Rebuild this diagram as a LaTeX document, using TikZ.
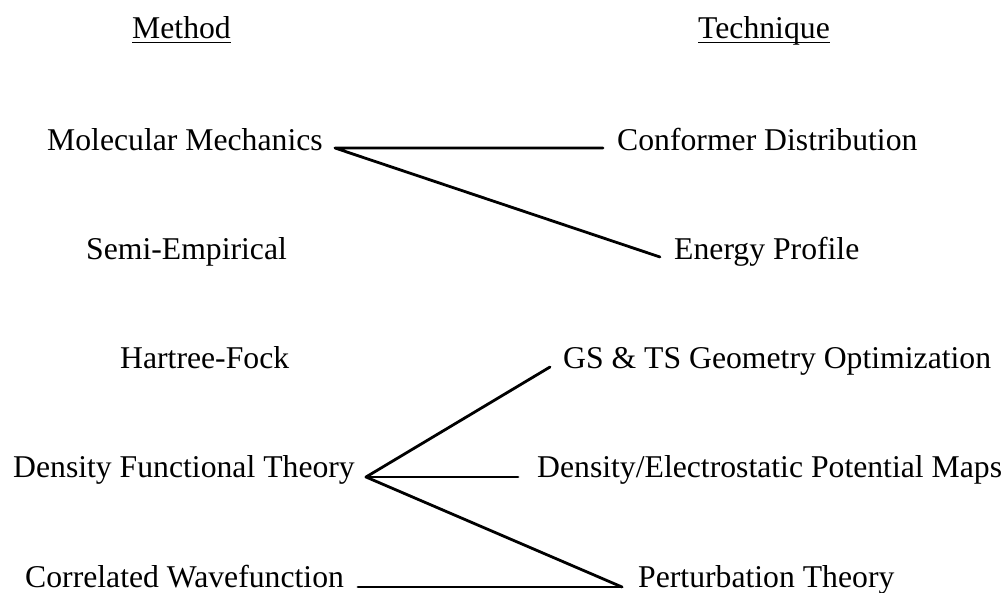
\documentclass[tikz,border=0pt]{standalone}
\usepackage{fontspec}
\setmainfont{Liberation Serif}
\begin{document}
\begin{tikzpicture}[x=1pt,y=-1pt,
  lbl/.style={anchor=base west,inner sep=0pt,font=\fontsize{31.7}{38}\selectfont},
  conn/.style={line width=2.8pt,line cap=round,line join=round}]
\useasboundingbox (0,0) rectangle (1008,592);
% headers
\node[lbl] (hm) at (132,38) {Method};
\node[lbl] (ht) at (698,38) {Technique};
\draw[line width=1.8pt] ([yshift=-4.5]hm.base west) -- ([yshift=-4.5]hm.base east);
\draw[line width=1.8pt] ([yshift=-4.5]ht.base west) -- ([yshift=-4.5]ht.base east);
% methods
\node[lbl] (mm) at (47,150) {Molecular Mechanics};
\node[lbl] (se) at (86,259) {Semi-Empirical};
\node[lbl] (hf) at (120,368) {Hartree-Fock};
\node[lbl] (dft) at (13,477) {Density Functional Theory};
\node[lbl] (cw) at (25,587) {Correlated Wavefunction};
% techniques
\node[lbl] (cd) at (617,150) {Conformer Distribution};
\node[lbl] (ep) at (674,259) {Energy Profile};
\node[lbl] (gs) at (563,368) {GS \& TS Geometry Optimization};
\node[lbl] (dm) at (537,477) {Density/Electrostatic Potential Maps};
\node[lbl] (pt) at (638,587) {Perturbation Theory};
% connector points
\coordinate (mmR) at (335,148);
\coordinate (cdL) at (603,148);
\coordinate (epL) at (660,257);
\coordinate (dftR) at (366,477);
\coordinate (gsL) at (550,367);
\coordinate (dmL) at (518,477);
\coordinate (ptL) at (622,587);
\coordinate (cwR) at (358,587);
% connectors
\draw[conn] (cdL) -- (mmR) -- (epL);
\draw[conn] (gsL) -- (dftR) -- (ptL);
\draw[conn] (dftR) -- (dmL);
\draw[conn] (cwR) -- (ptL);
\end{tikzpicture}
\end{document}
